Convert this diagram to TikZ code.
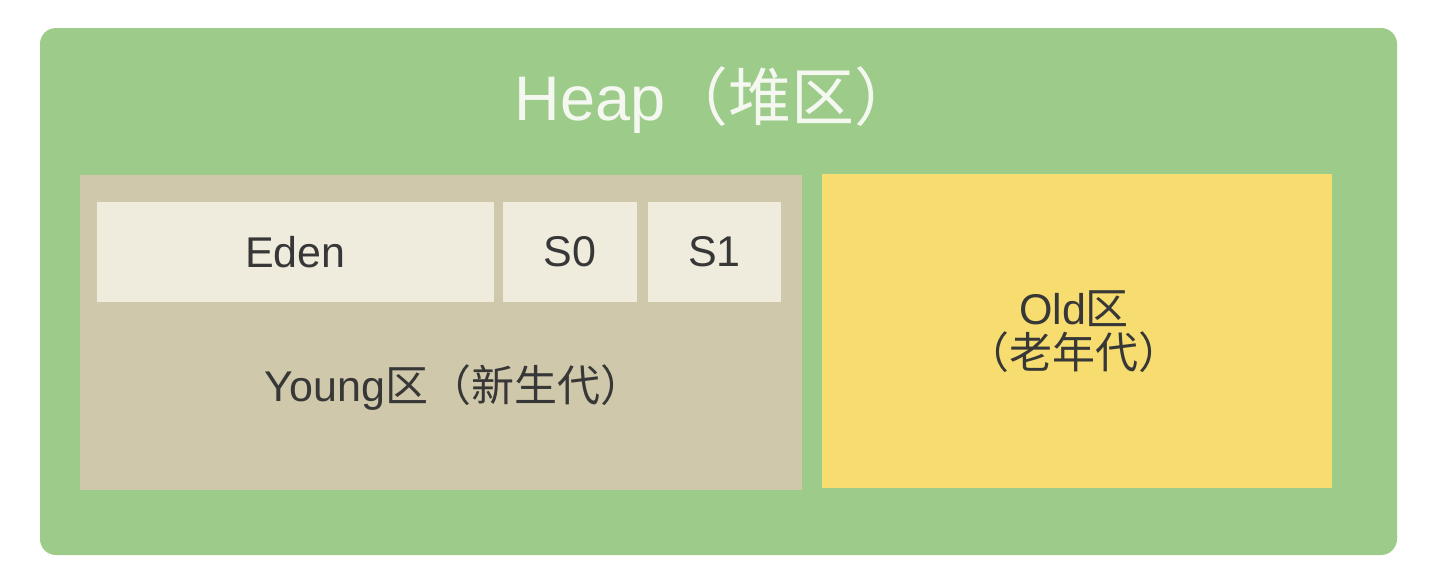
\documentclass[tikz,border=0pt]{standalone}
\usepackage{fontspec}
\setmainfont{Liberation Sans}
\newfontfamily\cjk{Noto Sans CJK SC}
\newcommand{\mylp}{{\cjk （}}
\newcommand{\myrp}{{\cjk ）}}
\definecolor{heapgreen}{RGB}{157,203,137}
\definecolor{youngbeige}{RGB}{207,200,170}
\definecolor{edencream}{RGB}{239,235,221}
\definecolor{oldyellow}{RGB}{247,220,112}
\definecolor{txtgray}{RGB}{55,55,55}
\definecolor{titlewhite}{RGB}{244,248,240}
\tikzset{
  region/.style={draw=none, inner sep=0pt, outer sep=0pt, anchor=north west},
  boxtext/.style={inner sep=0pt, text=txtgray, font=\fontsize{43}{44}\selectfont, align=center},
}
\begin{document}
\begin{tikzpicture}[x=1pt,y=-1pt]
\useasboundingbox[fill=white] (0,0) rectangle (1432,570);
\node[region, fill=heapgreen, rounded corners=16pt, minimum width=1357pt, minimum height=527pt] (heap) at (40,28) {};
\node[inner sep=0pt, text=titlewhite, font=\fontsize{63}{66}\selectfont] (title) at (716,100) {Heap\mylp{\cjk 堆区}\myrp};
\node[region, fill=youngbeige, minimum width=722pt, minimum height=315pt] (young) at (80,175) {};
\node[region, fill=edencream, minimum width=397pt, minimum height=100pt] (eden) at (97,202) {};
\node[region, fill=edencream, minimum width=134pt, minimum height=100pt] (s0) at (503,202) {};
\node[region, fill=edencream, minimum width=133pt, minimum height=100pt] (s1) at (648,202) {};
\node[region, fill=oldyellow, minimum width=510pt, minimum height=314pt] (old) at (822,174) {};
\node[boxtext] (edenlbl) at (eden.center) {Eden};
\node[boxtext] (s0lbl) at (s0.center) {S0};
\node[boxtext] (s1lbl) at (s1.center) {S1};
\node[boxtext] (younglbl) at (454,388) {Young{\cjk 区}\mylp{\cjk 新生代}\myrp};
\node[boxtext] (oldlbl) at (1074,332) {Old{\cjk 区}\\\mylp{\cjk 老年代}\myrp};
\end{tikzpicture}
\end{document}
